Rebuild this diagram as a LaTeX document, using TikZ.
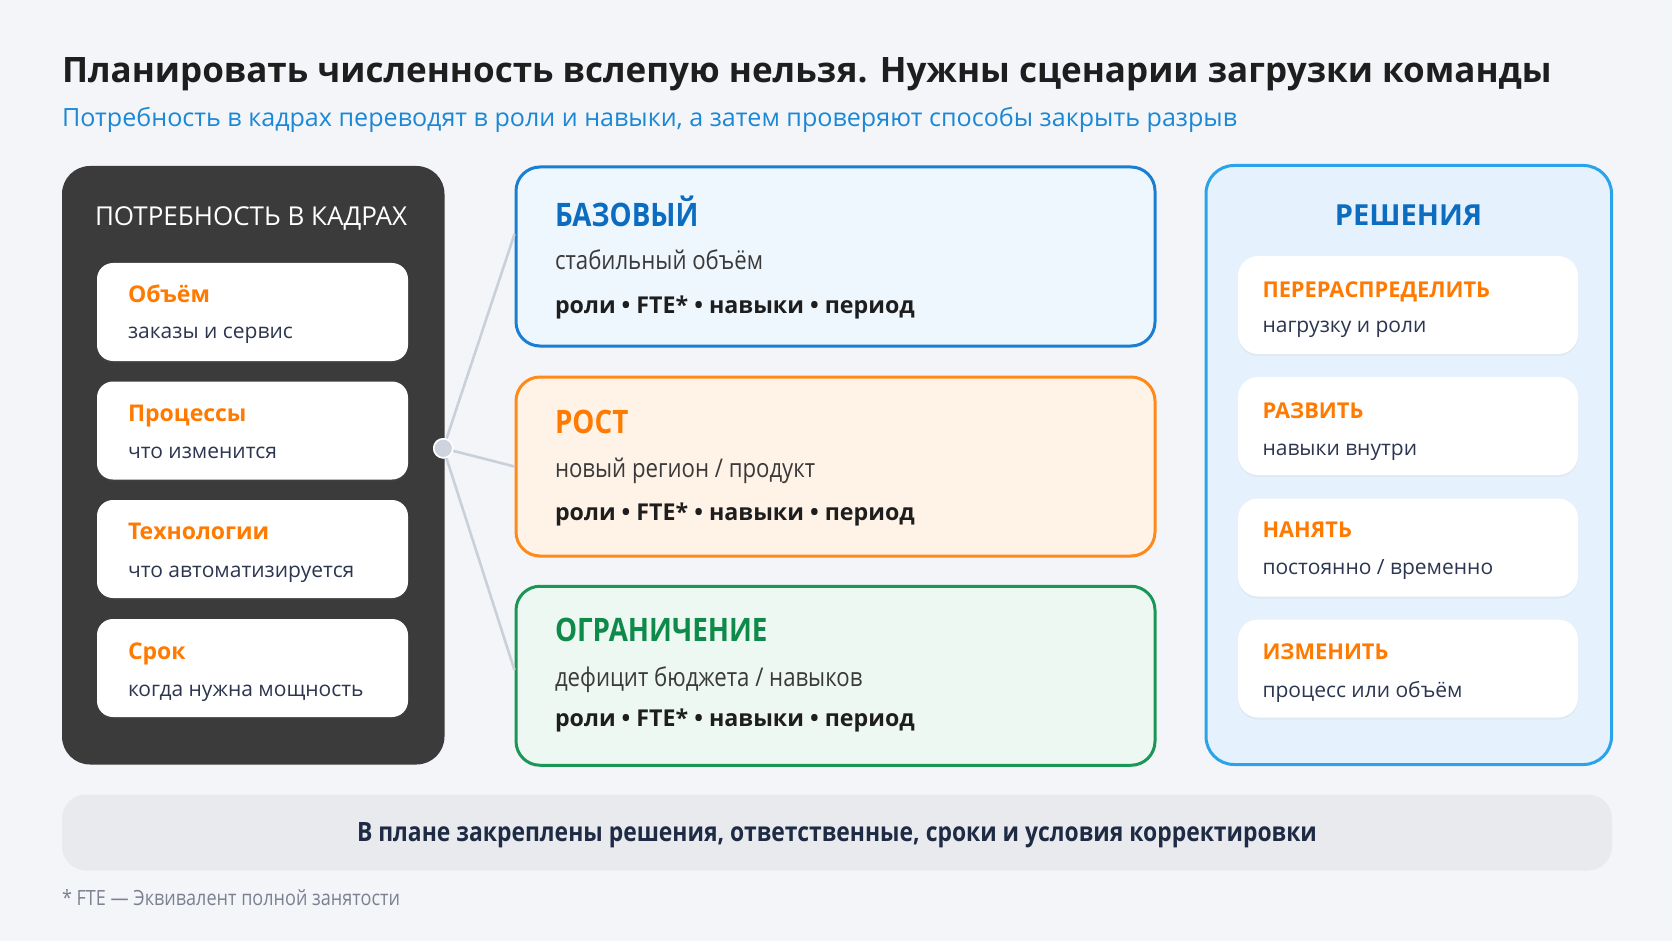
\documentclass[tikz,border=0pt]{standalone}
\usepackage{fontspec}
\setmainfont{Open Sans}
\newfontfamily\condfont[FakeStretch=0.86]{Open Sans}
\usetikzlibrary{shadows}
\definecolor{bgc}{HTML}{F3F5F8}
\definecolor{titlec}{HTML}{1E1E1E}
\definecolor{subblue}{HTML}{1B88D6}
\definecolor{darkpanel}{HTML}{3B3B3B}
\definecolor{orangeT}{HTML}{FF7A00}
\definecolor{orangeB}{HTML}{FF8A1A}
\definecolor{orangeF}{HTML}{FFF3E8}
\definecolor{blueB}{HTML}{1A7FD2}
\definecolor{blueT}{HTML}{0B6CC0}
\definecolor{blueF}{HTML}{EEF6FE}
\definecolor{greenB}{HTML}{1A9656}
\definecolor{greenT}{HTML}{0E8A4A}
\definecolor{greenF}{HTML}{EEF8F3}
\definecolor{rightB}{HTML}{2BA3EA}
\definecolor{rightF}{HTML}{E5F1FC}
\definecolor{cardtxt}{HTML}{2D3650}
\definecolor{midtxt}{HTML}{3A3A3A}
\definecolor{barF}{HTML}{E8EAEE}
\definecolor{bartxt}{HTML}{1F2B44}
\definecolor{footc}{HTML}{7B8190}
\definecolor{linkc}{HTML}{C9D0DA}
\definecolor{dotc}{HTML}{CDD4DE}
\tikzset{
  txt/.style={anchor=base west, inner sep=0pt, outer sep=0pt},
  whitecard/.style={rectangle, rounded corners=16pt, fill=white, inner sep=0pt,
    drop shadow={opacity=0.07, shadow xshift=0pt, shadow yshift=-2pt}},
  midcard/.style={rectangle, rounded corners=24pt, line width=3pt, inner sep=0pt,
    minimum width=639pt, minimum height=179pt,
    drop shadow={opacity=0.06, shadow xshift=0pt, shadow yshift=-2pt}},
  lefttitle/.style={txt, font=\fontsize{23}{26}\selectfont\bfseries, text=orangeT},
  leftsub/.style={txt, font=\fontsize{21}{24}\selectfont, text=cardtxt},
  midtitle/.style={txt, font=\condfont\fontsize{32.3}{35}\selectfont\bfseries},
  midsub/.style={txt, font=\condfont\fontsize{25.8}{28}\selectfont, text=midtxt},
  midbold/.style={txt, font=\fontsize{23.2}{26}\selectfont\bfseries, text=titlec},
  righttitle/.style={txt, font=\fontsize{21.8}{24}\selectfont\bfseries, text=orangeT},
  rightsub/.style={txt, font=\fontsize{21}{24}\selectfont, text=cardtxt},
  link/.style={draw=linkc, line width=2.6pt},
}
\begin{document}
\begin{tikzpicture}[x=1pt,y=-1pt]
\fill[bgc] (0,0) rectangle (1672,941);
\useasboundingbox (0,0) rectangle (1672,941);

% title
\node[txt, font=\fontsize{35}{38}\selectfont\bfseries, text=titlec] (title) at (62,82.5)
  {Планировать численность вслепую нельзя. Нужны сценарии загрузки команды};
\node[txt, font=\fontsize{25.1}{28}\selectfont, text=subblue] (subtitle) at (62,126.5)
  {Потребность в кадрах переводят в роли и навыки, а затем проверяют способы закрыть разрыв};

% left panel
\node[rectangle, rounded corners=28pt, fill=darkpanel, minimum width=382.5pt, minimum height=598.5pt, inner sep=0pt] (leftpanel) at (253.25,465.25) {};
\node[txt, font=\fontsize{26}{29}\selectfont, text=white] (lefthead) at (95,226) {ПОТРЕБНОСТЬ В КАДРАХ};

\node[whitecard, minimum width=311pt, minimum height=98pt] (lc1) at (252.5,312) {};
\node[whitecard, minimum width=311pt, minimum height=98pt] (lc2) at (252.5,430.5) {};
\node[whitecard, minimum width=311pt, minimum height=98pt] (lc3) at (252.5,549) {};
\node[whitecard, minimum width=311pt, minimum height=98pt] (lc4) at (252.5,668) {};

\node[lefttitle] (lc1t) at (128,302.7) {Объём};
\node[leftsub] (lc1s) at (128,338) {заказы и сервис};
\node[lefttitle] (lc2t) at (128,421) {Процессы};
\node[leftsub] (lc2s) at (128,458.5) {что изменится};
\node[lefttitle] (lc3t) at (128,539.5) {Технологии};
\node[leftsub] (lc3s) at (128,577) {что автоматизируется};
\node[lefttitle] (lc4t) at (128,659) {Срок};
\node[leftsub] (lc4s) at (128,696.5) {когда нужна мощность};

% middle cards
\node[midcard, draw=blueB, fill=blueF] (base) at (835.5,256.5) {};
\node[midcard, draw=orangeB, fill=orangeF] (grow) at (835.5,466.5) {};
\node[midcard, draw=greenB, fill=greenF] (limit) at (835.5,675.75) {};

% connectors
\node[circle, fill=dotc, draw=white, line width=1.5pt, minimum size=19pt, inner sep=0pt] (hub) at (443.3,448.3) {};
\draw[link] (hub) -- (base.176.4);
\draw[link] (hub) -- (grow.west);
\draw[link] (hub) -- (limit.179);
\node[circle, fill=dotc, draw=white, line width=1.5pt, minimum size=19pt, inner sep=0pt] (hubtop) at (hub) {};

\node[midtitle, text=blueT] (baset) at (555,227) {БАЗОВЫЙ};
\node[midsub] (bases) at (555,269.5) {стабильный объём};
\node[midbold] (baseb) at (555,313) {роли • FTE* • навыки • период};

\node[midtitle, text=orangeT] (growt) at (555,433.3) {РОСТ};
\node[midsub] (grows) at (555,477.5) {новый регион / продукт};
\node[midbold] (growb) at (555,520) {роли • FTE* • навыки • период};

\node[midtitle, text=greenT] (limitt) at (555,641.7) {ОГРАНИЧЕНИЕ};
\node[midsub] (limits) at (555,686.7) {дефицит бюджета / навыков};
\node[midbold] (limitb) at (555,726.7) {роли • FTE* • навыки • период};

% right panel
\node[rectangle, rounded corners=28pt, draw=rightB, fill=rightF, line width=3pt, minimum width=405.5pt, minimum height=599pt, inner sep=0pt] (rightpanel) at (1408.75,465) {};
\node[anchor=base, inner sep=0pt, font=\fontsize{29}{32}\selectfont\bfseries, text=blueT] (righthead) at (1408.6,226) {РЕШЕНИЯ};

\node[whitecard, rounded corners=20pt, minimum width=340pt, minimum height=98pt] (rc1) at (1408,305) {};
\node[whitecard, rounded corners=20pt, minimum width=340pt, minimum height=98pt] (rc2) at (1408,426) {};
\node[whitecard, rounded corners=20pt, minimum width=340pt, minimum height=98pt] (rc3) at (1408,547.5) {};
\node[whitecard, rounded corners=20pt, minimum width=340pt, minimum height=98pt] (rc4) at (1408,668.5) {};

\node[righttitle] (rc1t) at (1262.5,297.5) {ПЕРЕРАСПРЕДЕЛИТЬ};
\node[rightsub] (rc1s) at (1262.5,332.7) {нагрузку и роли};
\node[righttitle] (rc2t) at (1262.5,418) {РАЗВИТЬ};
\node[rightsub] (rc2s) at (1262.5,455.3) {навыки внутри};
\node[righttitle] (rc3t) at (1262.5,537.4) {НАНЯТЬ};
\node[rightsub] (rc3s) at (1262.5,574.7) {постоянно / временно};
\node[righttitle] (rc4t) at (1262.5,659) {ИЗМЕНИТЬ};
\node[rightsub] (rc4s) at (1262.5,697.4) {процесс или объём};

% bottom bar
\node[rectangle, rounded corners=24pt, fill=barF, minimum width=1550pt, minimum height=76pt, inner sep=0pt] (bar) at (837,832.5) {};
\node[anchor=base, inner sep=0pt, font=\condfont\fontsize{26.6}{29}\selectfont\bfseries, text=bartxt] (bartext) at (837,841.5)
  {В плане закреплены решения, ответственные, сроки и условия корректировки};

% footnote
\node[txt, font=\condfont\fontsize{21}{24}\selectfont, text=footc] (foot) at (62,905) {* FTE — Эквивалент полной занятости};
\end{tikzpicture}
\end{document}
